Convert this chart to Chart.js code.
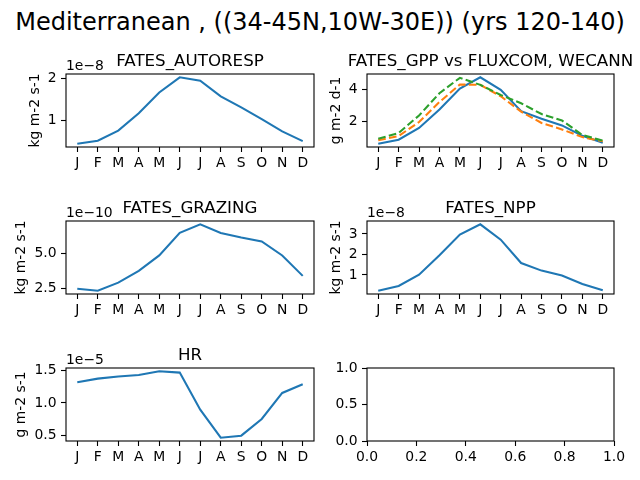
<!DOCTYPE html>
<html>
<head>
<meta charset="utf-8">
<script src="https://cdn.jsdelivr.net/npm/chart.js@4.4.1/dist/chart.umd.min.js"></script>
<style>
  body { margin: 0; background: #fff; }
  #fig { position: relative; width: 640px; height: 480px; overflow: hidden; background: #fff; }
  #fig canvas { position: absolute; }
  #suptitle {
    position: absolute; left: 0; top: 8px; width: 640px;
    text-align: center; font: 24px 'DejaVu Sans'; line-height: 28px; color: #000;
  }
</style>
</head>
<body>
<div id="fig">
  <div id="suptitle">Mediterranean , ((34-45N,10W-30E)) (yrs 120-140)</div>
  <canvas id="c-autoresp"></canvas>
  <canvas id="c-gpp"></canvas>
  <canvas id="c-grazing"></canvas>
  <canvas id="c-npp"></canvas>
  <canvas id="c-hr"></canvas>
  <canvas id="c-empty"></canvas>
</div>
<script>
// month labels on every x axis
var months = ['J', 'F', 'M', 'A', 'M', 'J', 'J', 'A', 'S', 'O', 'N', 'D'];

// FATES_AUTORESP, units of 1e-8 kg m-2 s-1
var autoresp = [0.46, 0.53, 0.77, 1.18, 1.67, 2.03, 1.95, 1.58, 1.32, 1.04, 0.75, 0.52];
var autorespTicks = [1, 2];

// GPP, g m-2 d-1
var gppFates = [0.60, 0.85, 1.58, 2.73, 4.04, 4.74, 3.96, 2.63, 2.15, 1.74, 1.09, 0.66];
var gppFluxcom = [0.81, 1.08, 1.95, 3.20, 4.29, 4.27, 3.56, 2.60, 1.89, 1.49, 1.01, 0.75];
var gppWecann = [0.90, 1.27, 2.36, 3.75, 4.71, 4.27, 3.64, 3.12, 2.45, 2.05, 1.14, 0.79];
var gppTicks = [2, 4];

// FATES_GRAZING, units of 1e-10 kg m-2 s-1
var grazing = [2.47, 2.33, 2.90, 3.74, 4.83, 6.43, 7.04, 6.43, 6.11, 5.83, 4.83, 3.38];
var grazingTicks = [2.5, 5.0];

// FATES_NPP, units of 1e-8 kg m-2 s-1
var npp = [0.23, 0.46, 1.01, 1.96, 2.97, 3.47, 2.72, 1.58, 1.21, 0.97, 0.56, 0.25];
var nppTicks = [1, 2, 3];

// HR, units of 1e-5 g m-2 s-1
var hr = [1.317, 1.374, 1.405, 1.430, 1.486, 1.466, 0.897, 0.466, 0.497, 0.754, 1.154, 1.286];
var hrTicks = [0.5, 1.0, 1.5];

// unused sixth panel
var emptyXTicks = [0.0, 0.2, 0.4, 0.6, 0.8, 1.0];
var emptyYTicks = [0.0, 0.5, 1.0];

var FONT = 'DejaVu Sans';
var TICK_SIZE = 13.9;
var PAD_L = 66, PAD_T = 40, PAD_R = 20, PAD_B = 30;

// draws the box, panel title, offset text and the y label
Chart.register({
    id: 'mplAxes',
    afterDraw: function (chart, args, o) {
        var ctx = chart.ctx, a = chart.chartArea;
        ctx.save();
        ctx.strokeStyle = '#000';
        ctx.lineWidth = 1.1;
        ctx.strokeRect(a.left, a.top, a.right - a.left, a.bottom - a.top);
        ctx.fillStyle = '#000';
        if (o.title) {
            ctx.font = '16.7px "' + FONT + '"';
            ctx.textAlign = 'center';
            ctx.textBaseline = 'alphabetic';
            ctx.fillText(o.title, (a.left + a.right) / 2, a.top - 8.5);
        }
        ctx.font = TICK_SIZE + 'px "' + FONT + '"';
        if (o.offset) {
            ctx.textAlign = 'left';
            ctx.textBaseline = 'alphabetic';
            ctx.fillText(o.offset, a.left, a.top - 4.5);
        }
        if (o.ylabel) {
            var w = 0;
            chart.scales.y.ticks.forEach(function (t) {
                w = Math.max(w, ctx.measureText(t.label).width);
            });
            var right = a.left - 5 - 4.5 - w - 5.6;
            ctx.translate(right, (a.top + a.bottom) / 2);
            ctx.rotate(-Math.PI / 2);
            ctx.textAlign = 'center';
            ctx.textBaseline = 'bottom';
            ctx.fillText(o.ylabel, 0, 0);
        }
        ctx.restore();
    }
});

function gridOpts() {
    return { display: true, drawOnChartArea: false, drawTicks: true, tickLength: 5, tickColor: '#000', tickWidth: 1.1 };
}

function axis(lo, hi, ticks, fmt, horizontal) {
    return {
        type: 'linear', min: lo, max: hi, bounds: 'data',
        afterBuildTicks: function (s) {
            s.ticks = ticks.map(function (v) { return { value: v }; });
        },
        afterFit: function (s) {
            if (horizontal) { s.height = PAD_B; } else { s.width = PAD_L; }
        },
        ticks: {
            callback: fmt, padding: horizontal ? 3.5 : 4.5, maxRotation: 0, autoSkip: false,
            color: '#000', font: { family: FONT, size: TICK_SIZE }
        },
        grid: gridOpts(),
        border: { display: false }
    };
}

function monthAxis() {
    var idx = months.map(function (m, i) { return i; });
    return axis(-0.55, months.length - 0.45, idx, function (v) { return months[v]; }, true);
}

// matplotlib-style autoscale: data range plus 5% each side
function range(series) {
    var all = [].concat.apply([], series);
    var lo = Math.min.apply(null, all), hi = Math.max.apply(null, all);
    var m = (hi - lo) * 0.05;
    return [lo - m, hi + m];
}

function pts(vals) {
    return vals.map(function (v, i) { return { x: i, y: v }; });
}

function line(vals, color, dash, order) {
    return {
        data: pts(vals), borderColor: color, borderWidth: 2.08, borderDash: dash || [],
        pointRadius: 0, fill: false, tension: 0, order: order || 0
    };
}

function panel(id, box, datasets, xScale, yScale, deco) {
    var c = document.getElementById(id);
    c.width = PAD_L + box.w + PAD_R;
    c.height = PAD_T + box.h + PAD_B;
    c.style.left = (box.l - PAD_L) + 'px';
    c.style.top = (box.t - PAD_T) + 'px';
    return new Chart(c, {
        type: 'line',
        data: { datasets: datasets },
        options: {
            responsive: false, animation: false, events: [],
            layout: { padding: { left: 0, top: PAD_T, right: PAD_R, bottom: 0 } },
            scales: { x: xScale, y: yScale },
            plugins: { legend: { display: false }, tooltip: { enabled: false }, mplAxes: deco }
        }
    });
}

function fixed(d) { return function (v) { return v.toFixed(d); }; }

var COL1 = 66, COL2 = 367, W = 248, H = 73;
var ROW1 = 74, ROW2 = 221, ROW3 = 368;

var r = range([autoresp]);
panel('c-autoresp', { l: COL1, t: ROW1, w: W, h: H },
    [line(autoresp, '#1f77b4')], monthAxis(), axis(r[0], r[1], autorespTicks, fixed(0)),
    { title: 'FATES_AUTORESP', offset: '1e\u22128', ylabel: 'kg m-2 s-1' });

r = range([gppFates, gppFluxcom, gppWecann]);
panel('c-gpp', { l: COL2, t: ROW1, w: W - 1, h: H },
    [line(gppFates, '#1f77b4', null, 3), line(gppFluxcom, '#ff7f0e', [7.7, 3.3], 2),
     line(gppWecann, '#2ca02c', [7.7, 3.3], 1)],
    monthAxis(), axis(r[0], r[1], gppTicks, fixed(0)),
    { title: 'FATES_GPP vs FLUXCOM, WECANN', ylabel: 'g m-2 d-1' });

r = range([grazing]);
panel('c-grazing', { l: COL1, t: ROW2, w: W, h: H },
    [line(grazing, '#1f77b4')], monthAxis(), axis(r[0], r[1], grazingTicks, fixed(1)),
    { title: 'FATES_GRAZING', offset: '1e\u221210', ylabel: 'kg m-2 s-1' });

r = range([npp]);
panel('c-npp', { l: COL2, t: ROW2, w: W - 1, h: H },
    [line(npp, '#1f77b4')], monthAxis(), axis(r[0], r[1], nppTicks, fixed(0)),
    { title: 'FATES_NPP', offset: '1e\u22128', ylabel: 'kg m-2 s-1' });

r = range([hr]);
panel('c-hr', { l: COL1, t: ROW3, w: W, h: H },
    [line(hr, '#1f77b4')], monthAxis(), axis(r[0], r[1], hrTicks, fixed(1)),
    { title: 'HR', offset: '1e\u22125', ylabel: 'g m-2 s-1' });

panel('c-empty', { l: COL2, t: ROW3, w: W - 1, h: H }, [],
    axis(0, 1, emptyXTicks, fixed(1), true), axis(0, 1, emptyYTicks, fixed(1)), {});
</script>
</body>
</html>
